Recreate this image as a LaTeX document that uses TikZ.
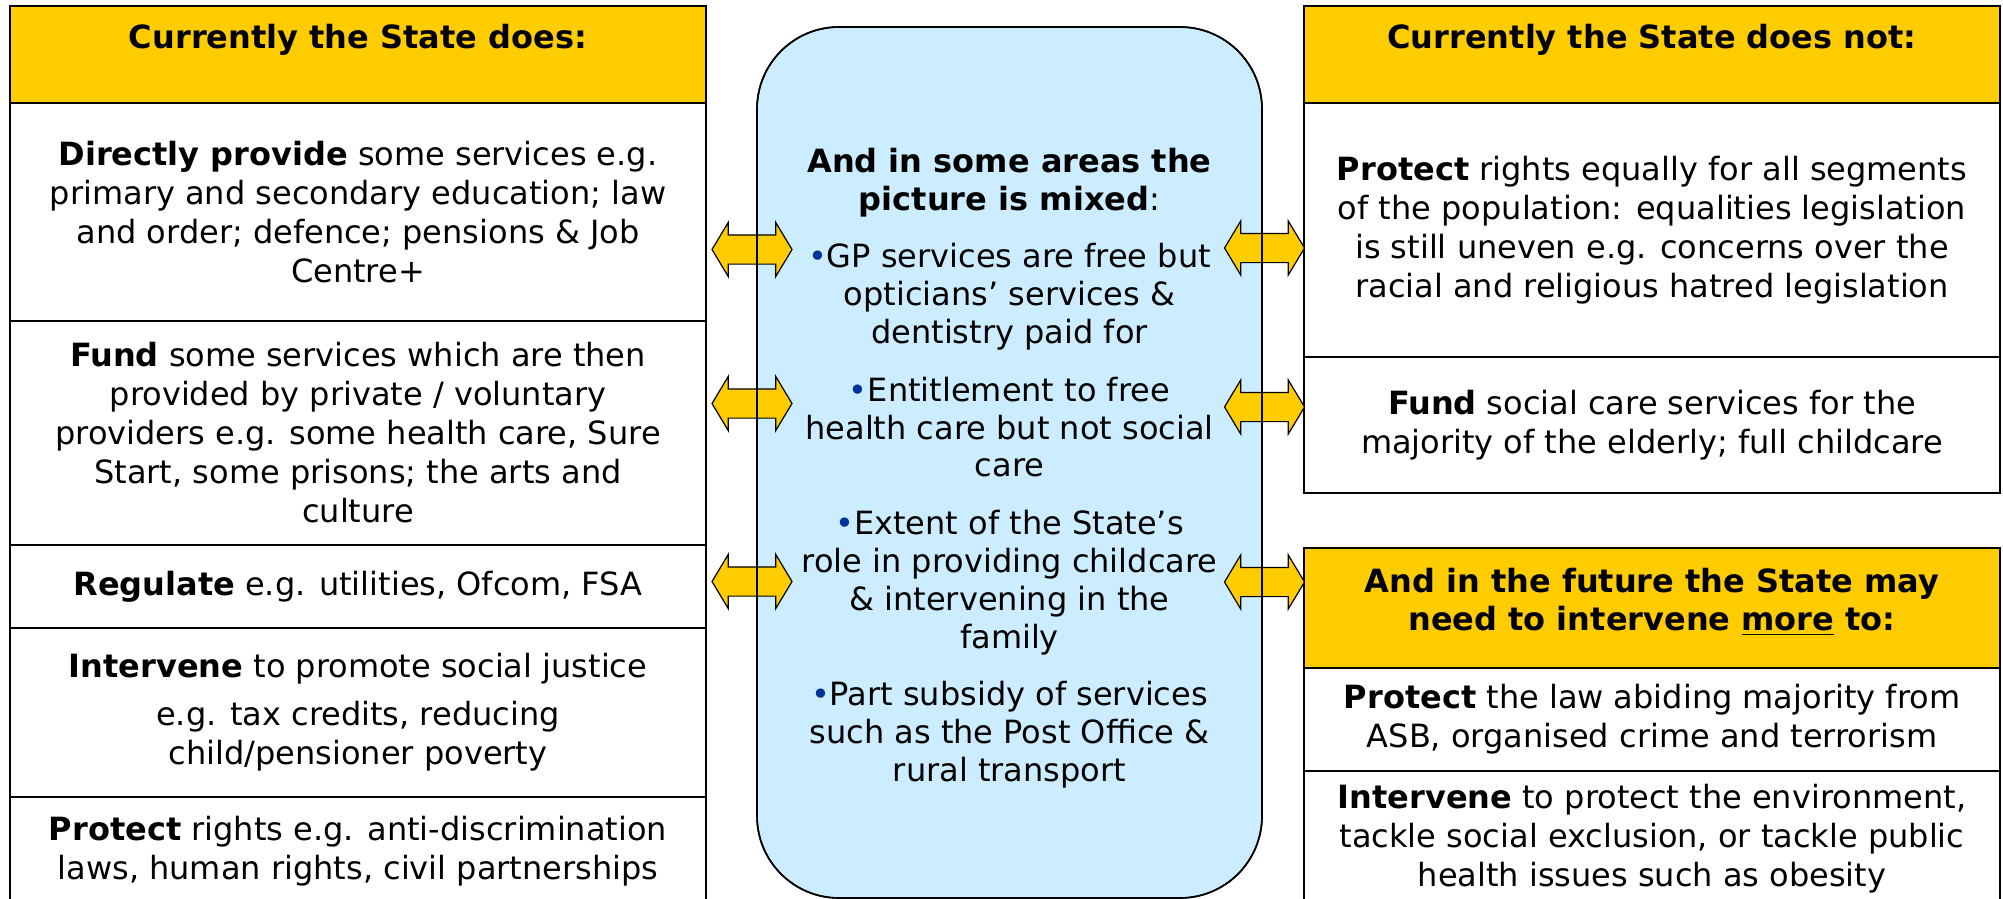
\documentclass[tikz,border=0pt]{standalone}
\usepackage{fontspec}
\setmainfont{DejaVu Sans}
\usepackage{xcolor}
\usetikzlibrary{positioning,shapes.arrows}

\definecolor{hdryellow}{HTML}{FFCC00}
\definecolor{mixblue}{HTML}{CCECFF}
\definecolor{bulblue}{HTML}{003399}
\newcommand{\mixbullet}{\textcolor{bulblue}{\textbullet}}

\begin{document}
\begin{tikzpicture}[x=0.5pt, y=-0.5pt,
  every node/.style={font=\fontsize{16}{19.5}\selectfont, outer sep=0pt},
  hdr/.style={draw, line width=1.1pt, fill=hdryellow, minimum width=348pt, inner sep=0pt},
  hdrtxt/.style={font=\fontsize{16}{19}\selectfont\bfseries, align=center, inner sep=0pt},
  row/.style={draw, line width=1.1pt, fill=white, minimum width=348pt, align=center, inner sep=2pt},
  mixbox/.style={draw, line width=0.8pt, fill=mixblue, rounded corners=41pt, minimum width=252.5pt, minimum height=435.5pt},
  dblarr/.style={double arrow, draw, line width=0.6pt, fill=hdryellow, minimum height=40pt, inner xsep=0pt, inner ysep=7pt, text height=0pt, text depth=0pt, double arrow head extend=6.25pt, double arrow tip angle=118}]

\useasboundingbox (0,0) rectangle (2003,899);
\clip (0,0) rectangle (2003,899);
\fill[white] (0,0) rectangle (2003,899);

% Left column
\node[hdr, minimum height=48.5pt, anchor=north] (hdrL) at (358,6) {};
\node[hdrtxt] (hdrLt) at (358,40) {Currently the State does:};
\node[row, minimum height=109pt, below=0pt of hdrL] (provide) {\textbf{Directly provide} some services e.g.\\ primary and secondary education; law\\ and order; defence; pensions \& Job\\ Centre+};
\node[row, minimum height=112pt, below=0pt of provide] (fund) {\textbf{Fund} some services which are then\\ provided by private / voluntary\\ providers e.g. some health care, Sure\\ Start, some prisons; the arts and\\ culture};
\node[row, minimum height=41.5pt, below=0pt of fund] (regulate) {\textbf{Regulate} e.g. utilities, Ofcom, FSA};
\node[row, minimum height=84.5pt, below=0pt of regulate] (intervene) {\textbf{Intervene} to promote social justice\\[4.5pt] e.g. tax credits, reducing\\ child/pensioner poverty};
\node[row, minimum height=54.5pt, below=0pt of intervene] (protect) {\textbf{Protect} rights e.g. anti-discrimination\\ laws, human rights, civil partnerships};

% Right column
\node[hdr, minimum height=48.5pt, anchor=north] (hdrR) at (1652,6) {};
\node[hdrtxt] (hdrRt) at (1652,40) {Currently the State does not:};
\node[row, minimum height=127pt, below=0pt of hdrR] (equal) {\textbf{Protect} rights equally for all segments\\ of the population: equalities legislation\\ is still uneven e.g. concerns over the\\ racial and religious hatred legislation};
\node[row, minimum height=68pt, below=0pt of equal] (socialcare) {\textbf{Fund} social care services for the\\ majority of the elderly; full childcare};

\node[hdr, minimum height=60pt, anchor=north] (hdrF) at (1652,548) {};
\node[hdrtxt] (hdrFt) at (1652,602) {And in the future the State may\\ need to intervene \underline{more} to:};
\node[row, minimum height=51.5pt, below=0pt of hdrF] (lawabiding) {\textbf{Protect} the law abiding majority from\\ ASB, organised crime and terrorism};
\node[row, minimum height=67.5pt, below=0pt of lawabiding] (environ) {\textbf{Intervene} to protect the environment,\\ tackle social exclusion, or tackle public\\ health issues such as obesity};

% Middle box
\node[mixbox, anchor=north] (mix) at (1009.5,27) {};
\node[align=center, font=\fontsize{16}{18.9}\selectfont] (mixtxt) at (1009.5,468) {\textbf{And in some areas the}\\ \textbf{picture is mixed}:\\[10pt]
  \mixbullet GP services are free but\\ opticians' services \&\\ dentistry paid for\\[10pt]
  \mixbullet Entitlement to free\\ health care but not social\\ care\\[10pt]
  \mixbullet Extent of the State's\\ role in providing childcare\\ \& intervening in the\\ family\\[10pt]
  \mixbullet Part subsidy of services\\ such as the Post Office \&\\ rural transport};

% Arrows
\node[dblarr] (arrL1) at (752,249.5) {};
\node[dblarr] (arrL2) at (752,403.5) {};
\node[dblarr] (arrL3) at (752,581.5) {};
\node[dblarr] (arrR1) at (1264.5,248) {};
\node[dblarr] (arrR2) at (1264.5,407) {};
\node[dblarr] (arrR3) at (1264.5,582) {};
\draw[line width=0.8pt, rounded corners=41pt] (mix.north west) rectangle (mix.south east);

\end{tikzpicture}
\end{document}
